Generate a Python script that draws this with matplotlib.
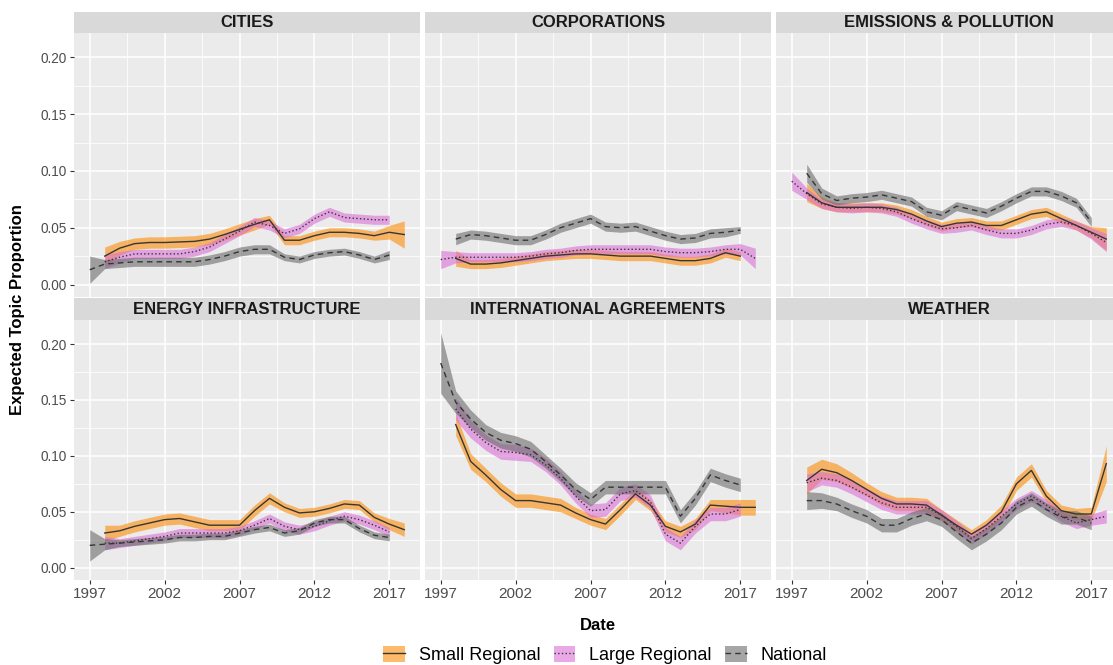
import numpy as np
import matplotlib
matplotlib.use("Agg")
import matplotlib.pyplot as plt
from matplotlib.patches import Patch
from matplotlib.lines import Line2D

plt.rcParams['font.family'] = ['Liberation Sans', 'DejaVu Sans']

nan = np.nan
YEARS = np.arange(1997, 2019)

TOPICS = ["CITIES", "CORPORATIONS", "EMISSIONS & POLLUTION",
          "ENERGY INFRASTRUCTURE", "INTERNATIONAL AGREEMENTS", "WEATHER"]
OUTLETS = ["Small Regional", "Large Regional", "National"]

# expected topic proportion per year (1997-2018), and ribbon half-width
CITIES_SMALL = [nan, .025, .032, .036, .037, .037, .0375, .038, .040, .044, .0485, .053,
                .057, .039, .039, .043, .046, .046, .045, .043, .046, .044]
CITIES_SMALL_HW = [nan, .008, .006, .005, .005, .005, .005, .005, .005, .005, .005, .005,
                   .004, .004, .004, .004, .004, .004, .004, .004, .006, .012]
CITIES_LARGE = [nan, .020, .024, .027, .027, .027, .027, .029, .033, .040, .047, .055,
                .052, .045, .049, .058, .064, .059, .058, .057, .057, nan]
CITIES_LARGE_HW = [nan, .006, .005, .004, .004, .004, .004, .004, .004, .004, .004, .004,
                   .004, .004, .004, .004, .004, .004, .004, .004, .004, nan]
CITIES_NAT = [.013, .018, .019, .020, .020, .020, .020, .020, .022, .025, .029, .031,
              .031, .024, .022, .026, .028, .029, .026, .022, .026, nan]
CITIES_NAT_HW = [.012, .004, .004, .004, .004, .004, .004, .004, .004, .004, .004, .004,
                 .004, .003, .003, .003, .003, .003, .003, .003, .004, nan]

CORP_SMALL = [nan, .023, .018, .018, .019, .021, .023, .025, .026, .027, .027, .026,
              .025, .025, .025, .023, .021, .021, .023, .028, .025, nan]
CORP_SMALL_HW = [nan, .007, .004, .004, .004, .004, .004, .004, .004, .004, .004, .004,
                 .004, .004, .004, .004, .004, .004, .004, .004, .004, nan]
CORP_LARGE = [.022, .024, .024, .024, .024, .024, .025, .027, .028, .030, .031, .031,
              .031, .031, .031, .029, .028, .028, .029, .031, .031, .023]
CORP_LARGE_HW = [.008, .005, .004, .004, .004, .004, .004, .004, .004, .004, .004, .004,
                 .004, .004, .004, .004, .004, .004, .004, .004, .005, .009]
CORP_NAT = [nan, .040, .044, .043, .041, .039, .039, .044, .050, .054, .058, .051,
            .050, .051, .047, .043, .040, .041, .045, .046, .048, nan]
CORP_NAT_HW = [nan, .005, .004, .004, .004, .004, .004, .004, .004, .004, .004, .004,
               .004, .004, .004, .004, .004, .004, .004, .004, .003, nan]

EMIS_SMALL = [nan, .081, .072, .068, .068, .068, .068, .066, .062, .056, .051, .054,
              .055, .052, .052, .057, .062, .064, .058, .052, .046, .040]
EMIS_SMALL_HW = [nan, .008, .005, .004, .004, .004, .004, .004, .004, .004, .004, .004,
                 .004, .004, .004, .004, .004, .004, .004, .004, .005, .010]
EMIS_LARGE = [.091, .080, .071, .068, .067, .068, .067, .064, .058, .053, .049, .050,
              .052, .048, .045, .045, .048, .053, .055, .052, .045, .037]
EMIS_LARGE_HW = [.008, .005, .004, .004, .004, .004, .004, .004, .004, .004, .004, .004,
                 .004, .004, .004, .004, .004, .004, .004, .004, .005, .008]
EMIS_NAT = [nan, .098, .080, .074, .076, .077, .079, .076, .073, .064, .061, .069,
            .066, .063, .069, .076, .082, .082, .078, .072, .055, nan]
EMIS_NAT_HW = [nan, .008, .005, .004, .004, .004, .004, .004, .004, .004, .004, .004,
               .004, .004, .004, .004, .004, .004, .004, .004, .004, nan]

ENERGY_SMALL = [nan, .031, .033, .037, .040, .043, .044, .041, .038, .038, .038, .051,
                .062, .054, .049, .050, .053, .057, .056, .045, .039, .034]
ENERGY_SMALL_HW = [nan, .007, .005, .005, .005, .005, .005, .005, .005, .005, .005, .005,
                   .005, .004, .004, .004, .004, .004, .004, .004, .005, .006]
ENERGY_LARGE = [nan, .022, .022, .024, .026, .028, .031, .031, .031, .031, .033, .038,
                .044, .037, .034, .037, .042, .046, .043, .038, .032, nan]
ENERGY_LARGE_HW = [nan, .006, .004, .004, .004, .004, .004, .004, .004, .004, .004, .004,
                   .004, .004, .004, .004, .004, .004, .004, .004, .004, nan]
ENERGY_NAT = [.020, .021, .022, .023, .024, .025, .027, .027, .028, .028, .031, .034,
              .036, .031, .033, .040, .043, .043, .035, .029, .027, nan]
ENERGY_NAT_HW = [.014, .005, .003, .003, .003, .003, .003, .003, .003, .003, .003, .003,
                 .003, .003, .003, .003, .003, .003, .003, .003, .003, nan]

INTL_SMALL = [nan, .128, .095, .083, .070, .060, .060, .058, .056, .049, .043, .039,
              .052, .066, .056, .037, .032, .039, .056, .055, .054, .054]
INTL_SMALL_HW = [nan, .010, .007, .006, .006, .006, .006, .006, .006, .005, .005, .005,
                 .005, .005, .005, .005, .005, .005, .005, .006, .007, .007]
INTL_LARGE = [nan, .142, .124, .112, .104, .103, .101, .092, .080, .064, .051, .052,
              .066, .069, .059, .030, .022, .037, .048, .048, .052, nan]
INTL_LARGE_HW = [nan, .010, .008, .007, .007, .007, .006, .006, .006, .006, .006, .006,
                 .006, .006, .006, .006, .006, .006, .006, .006, .006, nan]
INTL_NAT = [.183, .148, .133, .121, .114, .111, .106, .095, .083, .070, .061, .072,
            .072, .072, .072, .072, .046, .062, .083, .078, .074, nan]
INTL_NAT_HW = [.027, .010, .008, .007, .007, .007, .007, .006, .006, .006, .006, .006,
               .006, .006, .006, .006, .006, .006, .006, .006, .006, nan]

WEATHER_SMALL = [nan, .078, .088, .085, .078, .070, .062, .057, .057, .056, .047, .038,
                 .030, .038, .050, .075, .087, .064, .051, .048, .048, .093]
WEATHER_SMALL_HW = [nan, .012, .009, .008, .007, .006, .006, .006, .006, .006, .005, .005,
                    .004, .005, .006, .006, .006, .005, .005, .005, .006, .016]
WEATHER_LARGE = [nan, .076, .080, .078, .072, .065, .058, .054, .054, .054, .047, .037,
                 .026, .035, .046, .057, .064, .056, .046, .040, .043, .046]
WEATHER_LARGE_HW = [nan, .008, .006, .006, .006, .006, .006, .006, .006, .006, .005, .005,
                    .005, .005, .005, .005, .005, .005, .005, .005, .005, .006]
WEATHER_NAT = [nan, .060, .060, .057, .051, .046, .038, .038, .044, .048, .043, .032,
               .022, .030, .040, .054, .061, .052, .045, .045, .040, nan]
WEATHER_NAT_HW = [nan, .008, .007, .006, .006, .006, .006, .006, .006, .006, .006, .006,
                  .006, .006, .006, .006, .006, .006, .006, .006, .006, nan]

SERIES = {
    "CITIES": [(CITIES_SMALL, CITIES_SMALL_HW), (CITIES_LARGE, CITIES_LARGE_HW),
               (CITIES_NAT, CITIES_NAT_HW)],
    "CORPORATIONS": [(CORP_SMALL, CORP_SMALL_HW), (CORP_LARGE, CORP_LARGE_HW),
                     (CORP_NAT, CORP_NAT_HW)],
    "EMISSIONS & POLLUTION": [(EMIS_SMALL, EMIS_SMALL_HW), (EMIS_LARGE, EMIS_LARGE_HW),
                              (EMIS_NAT, EMIS_NAT_HW)],
    "ENERGY INFRASTRUCTURE": [(ENERGY_SMALL, ENERGY_SMALL_HW), (ENERGY_LARGE, ENERGY_LARGE_HW),
                              (ENERGY_NAT, ENERGY_NAT_HW)],
    "INTERNATIONAL AGREEMENTS": [(INTL_SMALL, INTL_SMALL_HW), (INTL_LARGE, INTL_LARGE_HW),
                                 (INTL_NAT, INTL_NAT_HW)],
    "WEATHER": [(WEATHER_SMALL, WEATHER_SMALL_HW), (WEATHER_LARGE, WEATHER_LARGE_HW),
                (WEATHER_NAT, WEATHER_NAT_HW)],
}

FILLS = ["#FD8C07", "#DA70D6", "#6B6B6B"]
STYLES = ["-", ":", (0, (4, 3))]
LINE_COLOR = "#363636"

W, H = 1113, 665
fig = plt.figure(figsize=(W / 100, H / 100), dpi=100)
fig.patch.set_facecolor("white")


def px_box(x0, x1, y0, y1):
    return [x0 / W, 1 - y1 / H, (x1 - x0) / W, (y1 - y0) / H]


COLS = [(74, 420), (425, 771), (776, 1122)]
ROWS = [((12, 33), (33, 297)), ((298, 320), (320, 580))]

for i, topic in enumerate(TOPICS):
    r, c = divmod(i, 3)
    x0, x1 = COLS[c]
    (sy0, sy1), (py0, py1) = ROWS[r]

    ax = fig.add_axes(px_box(x0, x1, py0, py1))
    ax.set_facecolor("#EBEBEB")
    for s in ax.spines.values():
        s.set_visible(False)
    ax.set_xlim(1995.95, 2019.05)
    ax.set_ylim(-0.011, 0.2215)
    ax.set_xticks([1997, 2002, 2007, 2012, 2017])
    ax.set_xticks([1999.5, 2004.5, 2009.5, 2014.5], minor=True)
    ax.set_yticks([0, 0.05, 0.10, 0.15, 0.20])
    ax.set_yticks([0.025, 0.075, 0.125, 0.175], minor=True)
    ax.grid(True, which="major", color="white", lw=1.1)
    ax.grid(True, which="minor", color="white", lw=0.55)
    ax.set_axisbelow(True)
    ax.tick_params(which="minor", length=0)
    ax.tick_params(which="major", length=3, width=0.8, color="#333333",
                   labelcolor="#4D4D4D", pad=2)
    ax.tick_params(axis="y", labelsize=9.8)
    ax.tick_params(axis="x", labelsize=11)
    ax.yaxis.set_major_formatter(plt.FuncFormatter(lambda v, _: f"{v:.2f}"))
    if c != 0:
        ax.tick_params(axis="y", left=False, labelleft=False)
    if r != 1:
        ax.tick_params(axis="x", bottom=False, labelbottom=False)

    series = SERIES[topic]
    for (vals, hw), fc in zip(series, FILLS):
        v = np.array(vals, dtype=float)
        h = np.array(hw, dtype=float)
        ax.fill_between(YEARS, v - h, v + h, color=fc, alpha=0.6, lw=0)
    for (vals, _), ls in zip(series, STYLES):
        ax.plot(YEARS, np.array(vals, dtype=float), color=LINE_COLOR, lw=1.0, ls=ls)

    strip = fig.add_axes(px_box(x0, x1, sy0, sy1))
    strip.set_facecolor("#D9D9D9")
    strip.set_xticks([])
    strip.set_yticks([])
    for s in strip.spines.values():
        s.set_visible(False)
    strip.text(0.5, 0.5, topic, ha="center", va="center", fontsize=12,
               fontweight="bold", color="#1A1A1A", transform=strip.transAxes)

fig.text(18 / W, 1 - 310 / H, "Expected Topic Proportion", rotation=90,
         ha="center", va="center", fontsize=12, fontweight="bold", color="black")
fig.text(598 / W, 1 - 625 / H, "Date", ha="center", va="center",
         fontsize=12, fontweight="bold", color="black")

handles = []
for fc, ls in zip(FILLS, STYLES):
    handles.append((Patch(facecolor=fc, alpha=0.6, edgecolor="none"),
                    Line2D([], [], color=LINE_COLOR, lw=1.0, ls=ls)))
fig.legend(handles, OUTLETS, loc="center", bbox_to_anchor=(605 / W, 1 - 655 / H),
           ncol=3, frameon=False, fontsize=13, handlelength=1.2, handleheight=1.0,
           handletextpad=0.75, columnspacing=0.75)

fig.savefig("out.png", dpi=100)
